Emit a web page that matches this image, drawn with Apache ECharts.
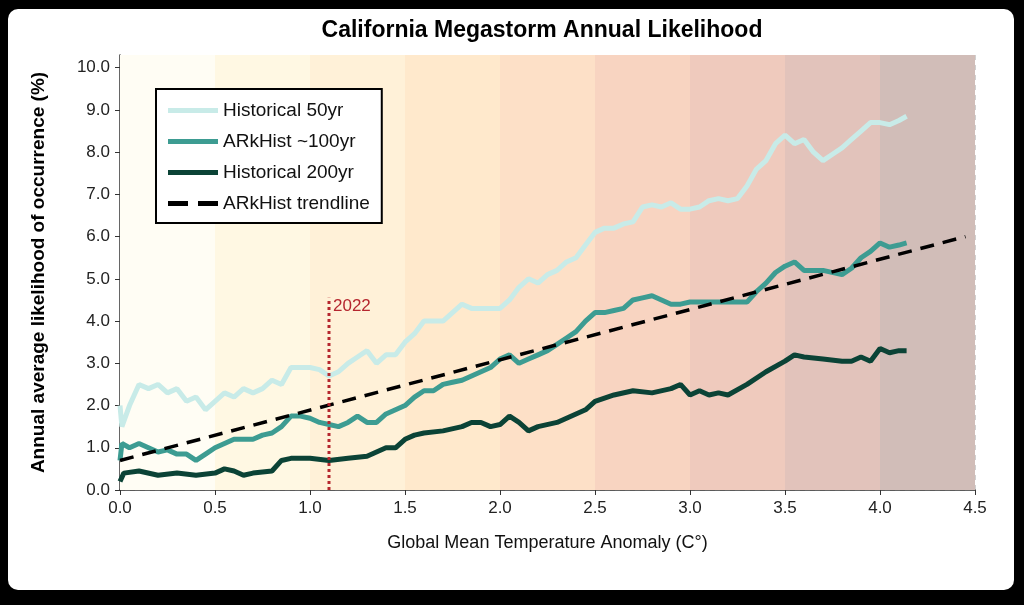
<!DOCTYPE html>
<html>
<head>
<meta charset="utf-8">
<script src="https://cdn.jsdelivr.net/npm/echarts@6/dist/echarts.min.js"></script>
<style>
  html, body { margin: 0; padding: 0; background: #000; }
  #frame { position: absolute; left: 8px; top: 9px; width: 1006px; height: 581px; background: #fff; border-radius: 10px; }
  #main { position: absolute; left: -8px; top: -9px; width: 1024px; height: 605px; }
</style>
</head>
<body>
<div id="frame"><div id="main"></div></div>
<script>
// data: [temperature anomaly, likelihood %]
var hist50 = [[0,2.0],[0.01,1.5],[0.05,2.0],[0.1,2.5],[0.15,2.4],[0.2,2.5],[0.25,2.3],[0.3,2.4],[0.35,2.1],[0.4,2.2],[0.45,1.9],[0.5,2.1],[0.55,2.3],[0.6,2.2],[0.65,2.4],[0.7,2.3],[0.75,2.4],[0.8,2.6],[0.85,2.5],[0.9,2.9],[0.95,2.9],[1.0,2.9],[1.05,2.85],[1.1,2.7],[1.15,2.8],[1.2,3.0],[1.25,3.15],[1.3,3.3],[1.35,3.0],[1.4,3.2],[1.45,3.2],[1.5,3.5],[1.55,3.7],[1.6,4.0],[1.65,4.0],[1.7,4.0],[1.75,4.2],[1.8,4.4],[1.85,4.3],[1.9,4.3],[1.95,4.3],[2.0,4.3],[2.05,4.5],[2.1,4.8],[2.15,5.0],[2.2,4.9],[2.25,5.1],[2.3,5.2],[2.35,5.4],[2.4,5.5],[2.45,5.8],[2.5,6.1],[2.55,6.2],[2.6,6.2],[2.65,6.3],[2.7,6.35],[2.75,6.7],[2.8,6.75],[2.85,6.7],[2.9,6.8],[2.95,6.65],[3.0,6.65],[3.05,6.7],[3.1,6.85],[3.15,6.9],[3.2,6.85],[3.25,6.9],[3.3,7.2],[3.35,7.6],[3.4,7.8],[3.45,8.2],[3.5,8.4],[3.55,8.2],[3.6,8.3],[3.65,8.0],[3.7,7.8],[3.75,7.95],[3.8,8.1],[3.85,8.3],[3.9,8.5],[3.95,8.7],[4.0,8.7],[4.05,8.65],[4.1,8.75],[4.14,8.85]];
var ark100 = [[0,0.7],[0.01,1.1],[0.05,1.0],[0.1,1.1],[0.15,1.0],[0.2,0.9],[0.25,0.95],[0.3,0.85],[0.35,0.85],[0.4,0.7],[0.45,0.85],[0.5,1.0],[0.55,1.1],[0.6,1.2],[0.65,1.2],[0.7,1.2],[0.75,1.3],[0.8,1.35],[0.85,1.5],[0.9,1.75],[0.95,1.75],[1.0,1.7],[1.05,1.6],[1.1,1.55],[1.15,1.5],[1.2,1.6],[1.25,1.75],[1.3,1.6],[1.35,1.6],[1.4,1.8],[1.45,1.9],[1.5,2.0],[1.55,2.2],[1.6,2.35],[1.65,2.35],[1.7,2.5],[1.75,2.55],[1.8,2.6],[1.85,2.7],[1.9,2.8],[1.95,2.9],[2.0,3.1],[2.05,3.2],[2.1,3.0],[2.15,3.1],[2.2,3.2],[2.25,3.3],[2.3,3.45],[2.35,3.6],[2.4,3.75],[2.45,4.0],[2.5,4.2],[2.55,4.2],[2.6,4.25],[2.65,4.3],[2.7,4.5],[2.75,4.55],[2.8,4.6],[2.85,4.5],[2.9,4.4],[2.95,4.4],[3.0,4.45],[3.1,4.45],[3.2,4.45],[3.3,4.45],[3.35,4.7],[3.4,4.9],[3.45,5.15],[3.5,5.3],[3.55,5.4],[3.6,5.2],[3.7,5.2],[3.8,5.1],[3.85,5.25],[3.9,5.5],[3.95,5.65],[4.0,5.85],[4.05,5.75],[4.1,5.8],[4.14,5.85]];
var hist200 = [[0,0.2],[0.02,0.4],[0.1,0.45],[0.2,0.35],[0.3,0.4],[0.4,0.35],[0.5,0.4],[0.55,0.5],[0.6,0.45],[0.65,0.35],[0.7,0.4],[0.8,0.45],[0.85,0.7],[0.9,0.75],[1.0,0.75],[1.1,0.7],[1.2,0.75],[1.3,0.8],[1.35,0.9],[1.4,1.0],[1.45,1.0],[1.5,1.2],[1.55,1.3],[1.6,1.35],[1.7,1.4],[1.8,1.5],[1.85,1.6],[1.9,1.6],[1.95,1.5],[2.0,1.55],[2.05,1.75],[2.1,1.6],[2.15,1.4],[2.2,1.5],[2.3,1.6],[2.4,1.8],[2.45,1.9],[2.5,2.1],[2.6,2.25],[2.7,2.35],[2.8,2.3],[2.9,2.4],[2.95,2.5],[3.0,2.25],[3.05,2.35],[3.1,2.25],[3.15,2.3],[3.2,2.25],[3.3,2.5],[3.4,2.8],[3.5,3.05],[3.55,3.2],[3.6,3.15],[3.7,3.1],[3.8,3.05],[3.85,3.05],[3.9,3.15],[3.95,3.05],[4.0,3.35],[4.05,3.25],[4.1,3.3],[4.14,3.3]];
var trend = [[0,0.7],[4.45,6.0]];
var year2022 = [[1.1,0],[1.1,4.55]];
var bandEdges = [0,0.5,1,1.5,2,2.5,3,3.5,4,4.5];
var bandColors = ['#fffdf4','#fff8e3','#fff1d8','#ffe9cc','#fde0c7','#f8d4c1','#efcabd','#e2c3bb','#d1bdb8'];

var areas = [];
for (var i = 0; i < bandColors.length; i++) {
  areas.push([{xAxis: bandEdges[i], yAxis: 0, itemStyle: {color: bandColors[i]}}, {xAxis: bandEdges[i+1], yAxis: 10.3}]);
}

var font = 'Liberation Sans, Arial, sans-serif';
var solidIcon = 'path://M0,0h10v1h-10z';
var dashIcon = 'path://M0,0h4v1h-4zM6,0h4v1h-4z';
var chart = echarts.init(document.getElementById('main'));
chart.setOption({
  animation: false,
  textStyle: {fontFamily: font},
  title: {text: 'California Megastorm Annual Likelihood', left: 537, top: 14, textAlign: 'center',
    textStyle: {fontSize: 23, fontWeight: 'bold', color: '#000', fontFamily: font}},
  grid: {left: 120, right: 49, top: 55, bottom: 115},
  legend: {
    left: 156, top: 89, orient: 'vertical', padding: [12, 12, 10, 12],
    borderColor: '#000', borderWidth: 2, backgroundColor: '#fff',
    itemWidth: 50, itemHeight: 7, itemGap: 12,
    textStyle: {fontSize: 19, color: '#111', fontFamily: font},
    data: [
      {name: 'Historical 50yr', icon: solidIcon},
      {name: 'ARkHist ~100yr', icon: solidIcon},
      {name: 'Historical 200yr', icon: solidIcon},
      {name: 'ARkHist trendline', icon: dashIcon}
    ]
  },
  xAxis: {
    type: 'value', min: 0, max: 4.5, interval: 0.5,
    name: 'Global Mean Temperature Anomaly (C°)', nameLocation: 'middle', nameGap: 44,
    nameTextStyle: {fontSize: 18, color: '#111'},
    axisLine: {lineStyle: {color: '#333', width: 1.5}},
    axisTick: {show: true, length: 5, lineStyle: {color: '#333'}},
    axisLabel: {fontSize: 17, color: '#222', margin: 10, formatter: function (v) { return v.toFixed(1); }},
    splitLine: {show: true, lineStyle: {color: '#d0d0d0', type: [5, 5]}}
  },
  yAxis: {
    type: 'value', min: 0, max: 10.3, interval: 1,
    name: 'Annual average likelihood of occurrence (%)', nameLocation: 'middle', nameGap: 72,
    nameTextStyle: {fontSize: 19, fontWeight: 'bold', color: '#000'},
    axisLine: {show: true, lineStyle: {color: '#333', width: 1.5}},
    axisTick: {show: true, length: 5, lineStyle: {color: '#333'}},
    axisLabel: {fontSize: 17, color: '#222', margin: 10, showMaxLabel: false, formatter: function (v) { return v > 10 ? '' : v.toFixed(1); }},
    splitLine: {show: true, lineStyle: {color: '#d0d0d0', type: [5, 5]}}
  },
  series: [
    {name: 'bands', type: 'line', data: [], silent: true,
      markArea: {silent: true, data: areas}},
    {name: 'Historical 50yr', type: 'line', data: hist50, symbol: 'none', z: 3,
      lineStyle: {color: '#c8ebe8', width: 5}, itemStyle: {color: '#c8ebe8'}},
    {name: 'ARkHist ~100yr', type: 'line', data: ark100, symbol: 'none', z: 3,
      lineStyle: {color: '#3d9c92', width: 5}, itemStyle: {color: '#3d9c92'}},
    {name: 'Historical 200yr', type: 'line', data: hist200, symbol: 'none', z: 3,
      lineStyle: {color: '#0b4336', width: 5}, itemStyle: {color: '#0b4336'}},
    {name: 'ARkHist trendline', type: 'line', data: trend, symbol: 'none', z: 4,
      lineStyle: {color: '#000', width: 3.5, type: [14, 9]}, itemStyle: {color: '#000'}},
    {name: '2022', type: 'line', data: year2022, symbol: 'none', z: 5,
      lineStyle: {color: '#b5262e', width: 3, type: [3, 3]},
      endLabel: {show: true, formatter: '2022', color: '#b5262e', fontSize: 17, offset: [-4, 8]}}
  ]
});
</script>
</body>
</html>
